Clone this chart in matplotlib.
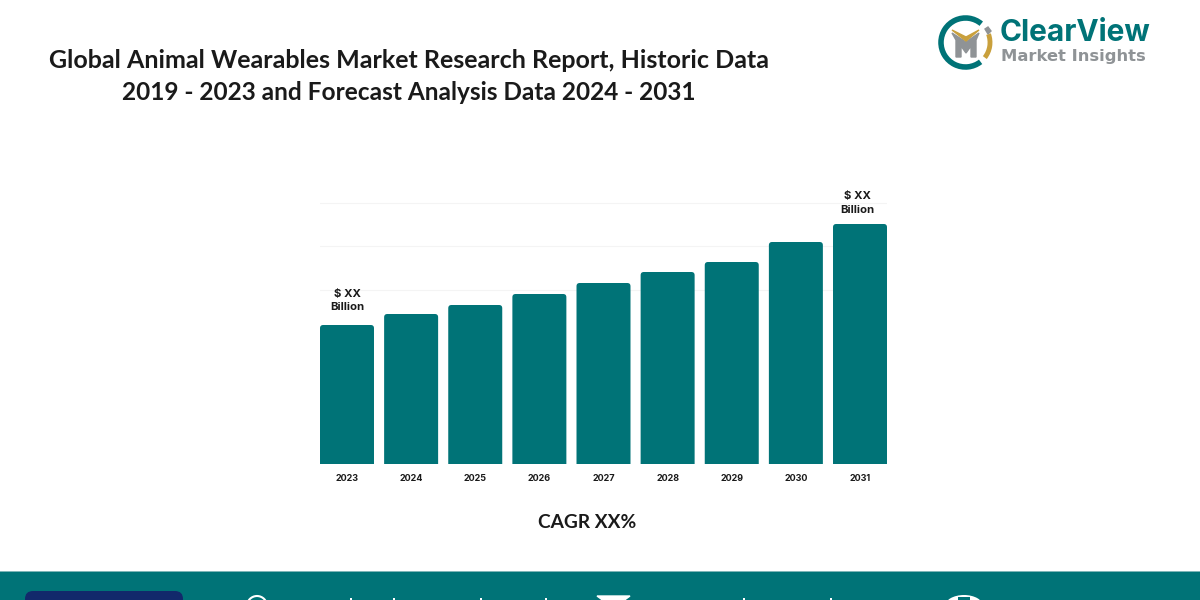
import matplotlib
matplotlib.use("Agg")
import matplotlib.pyplot as plt
from matplotlib.patches import FancyBboxPatch, Rectangle, Arc, Polygon, Ellipse

years = ["2023", "2024", "2025", "2026", "2027", "2028", "2029", "2030", "2031"]
values = [139, 150, 159, 170, 181, 192, 202, 222, 240]
grid_values = [174, 218, 261]

title_lines = ["Global Animal Wearables Market Research Report, Historic Data",
               "2019 - 2023 and Forecast Analysis Data 2024 - 2031"]
TEAL = "#007377"
GOLD = "#c9a03c"
GREY = "#8f9396"
NAVY = "#12296b"
TXT = "#1a1a1a"

plt.rcParams['font.family'] = ['Lato', 'DejaVu Sans']

fig = plt.figure(figsize=(12, 6), dpi=100)

# pixel overlay for title, logo and footer
bg = fig.add_axes([0, 0, 1, 1])
bg.set_xlim(0, 1200)
bg.set_ylim(600, 0)
bg.axis("off")

bg.text(409, 60, title_lines[0], ha="center", va="center", fontsize=18, fontweight="bold", color=TXT)
bg.text(409, 93, title_lines[1], ha="center", va="center", fontsize=17.6, fontweight="bold", color=TXT)
bg.text(587, 522, "CAGR XX%", ha="center", va="center", fontsize=13.8, fontweight="bold", color=TXT)

# logo
bg.add_patch(Arc((965.5, 42.5), 49, 49, theta1=52, theta2=310, color=TEAL, lw=4))
bg.add_patch(Arc((965.5, 42.5), 49, 49, theta1=-20, theta2=38, color=GOLD, lw=3.5))
bg.add_patch(Polygon([(985, 29), (988, 27), (991, 31), (988, 34)], closed=True, color=GREY))
bg.add_patch(Polygon([(952, 33), (966, 42), (979, 33), (976, 40), (976, 57), (971, 57), (971, 46),
                      (966, 53), (961, 46), (961, 57), (956, 57), (956, 40)], closed=True, color=GREY))
bg.add_patch(Polygon([(952, 30), (966, 37), (979, 30), (966, 41)], closed=True, color=GOLD))
bg.text(1000, 33, "ClearView", ha="left", va="center", fontsize=21.5, fontweight="bold",
        family=["Inter", "DejaVu Sans"], color=TEAL)
bg.text(1001, 56, "Market Insights", ha="left", va="center", fontsize=11.8, fontweight="bold",
        family=["DejaVu Sans"], color=GREY)

# footer, only the top of its contents is in frame
bg.add_patch(Rectangle((0, 571), 1200, 1.5, color="#7fb5b7", lw=0))
bg.add_patch(Rectangle((0, 572), 1200, 28, color=TEAL, lw=0))
bg.add_patch(FancyBboxPatch((25, 591), 158, 30, boxstyle="round,pad=0,rounding_size=8", color=NAVY, lw=0))
bg.add_patch(Ellipse((257, 606), 20, 20, fill=False, ec="white", lw=1.5))
bg.add_patch(Polygon([(597, 596), (630, 596), (613.5, 608)], closed=True, color="white"))
bg.add_patch(Ellipse((964, 606), 38, 22, color="white", lw=0))
bg.add_patch(Rectangle((958, 597), 12, 6, color=TEAL, lw=0))
for x in [350, 393, 480, 545, 743, 830]:
    bg.add_patch(Rectangle((x, 598), 1.5, 2, color="white", lw=0))

# bar chart
ax = fig.add_axes([320 / 1200, (600 - 464) / 600, 567 / 1200, 300 / 600])
ax.patch.set_alpha(0)
ax.set_xlim(-0.421, 8.421)
ax.set_ylim(0, 300)
for g in grid_values:
    ax.axhline(g, color="#f4f4f4", lw=0.8, zorder=0)
for i, v in enumerate(values):
    # rounded on top only: the bottom corners fall below the axis and get clipped
    ax.add_patch(FancyBboxPatch((i - 0.421, -10), 0.842, v + 10,
                                boxstyle="round,pad=0,rounding_size=0.05",
                                mutation_aspect=64, color=TEAL, lw=0, zorder=2))
ax.set_xticks(range(len(years)))
ax.set_xticklabels(years, fontsize=6.5, fontweight="bold", color=TXT, family=["Inter", "DejaVu Sans"])
ax.tick_params(axis="x", length=0, pad=7)
ax.set_yticks([])
for s in ax.spines.values():
    s.set_visible(False)

ax.text(0, values[0] + 24.5, "$ XX\nBillion", ha="center", va="center", fontsize=8.2,
        fontweight="bold", color=TXT, linespacing=1.45, family=["Inter", "DejaVu Sans"])
ax.text(7.96, values[8] + 21, "$ XX\nBillion", ha="center", va="center", fontsize=8.2,
        fontweight="bold", color=TXT, linespacing=1.45, family=["Inter", "DejaVu Sans"])

fig.savefig("out.png", dpi=100)
